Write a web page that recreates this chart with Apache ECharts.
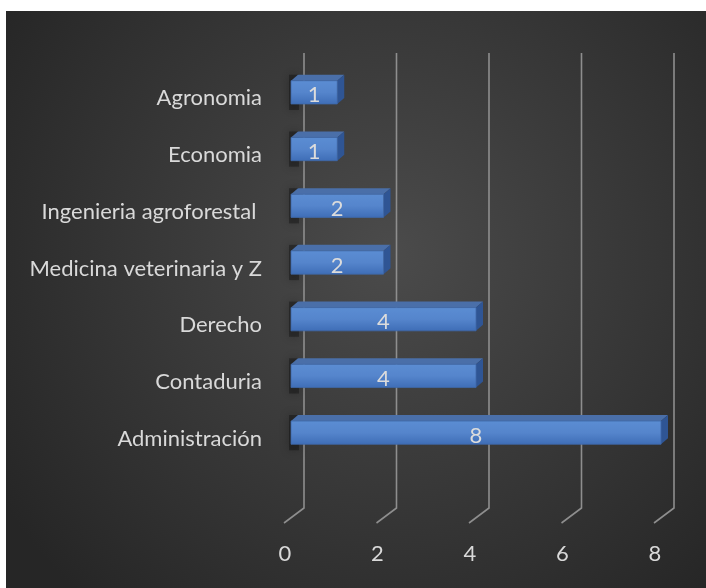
<!DOCTYPE html>
<html>
<head>
<meta charset="utf-8">
<style>
  html, body { margin: 0; padding: 0; background: #ffffff; }
  #chart { position: absolute; left: 6px; top: 11px; width: 700px; height: 577px; }
</style>
<script src="https://cdn.jsdelivr.net/npm/echarts@6/dist/echarts.min.js"></script>
</head>
<body>
<div id="chart"></div>
<script>
// Carreras y número de estudiantes
const categories = ['Administración', 'Contaduria', 'Derecho', 'Medicina veterinaria y Z', 'Ingenieria agroforestal ', 'Economia', 'Agronomia'];
const values = [8, 4, 4, 2, 2, 1, 1];
const ticks = [0, 2, 4, 6, 8];

const FONT = 'Lato, "Liberation Sans", sans-serif';
const DEPTH_X = 7, DEPTH_Y = -6;

const chart = echarts.init(document.getElementById('chart'), null, { renderer: 'canvas' });

// Back-wall gridlines with the short floor segment at the bottom
function renderGrid(params, api) {
  const v = api.value(0);
  const cs = params.coordSys;
  const p = api.coord([v, 0]);
  const bx = p[0] + 13;
  const yTop = cs.y - 11;
  const yBot = cs.y + cs.height + 47;
  return {
    type: 'polyline',
    shape: { points: [[bx, yTop], [bx, yBot], [bx - 20, yBot + 15]] },
    style: { stroke: '#8e8e8e', lineWidth: 1.6, fill: null },
    silent: true
  };
}

// 3D-looking bar: front face, top face, side face, wall shadow and value text
function renderBar(params, api) {
  const val = api.value(0);
  const idx = api.value(1);
  const p0 = api.coord([0, idx]);
  const p1 = api.coord([val, idx]);
  const band = api.size([0, 1])[1];
  const h = band * 0.41;
  const x0 = p0[0], x1 = p1[0];
  const yt = p0[1] - h / 2, yb = p0[1] + h / 2;
  return {
    type: 'group',
    children: [
      {
        type: 'rect',
        shape: { x: x0 - 2, y: yt - 6, width: 10, height: h + 12 },
        style: { fill: 'rgba(0,0,0,0.3)', shadowBlur: 10, shadowColor: 'rgba(0,0,0,0.85)' },
        silent: true
      },
      {
        type: 'polygon',
        shape: { points: [[x0, yt], [x1, yt], [x1 + DEPTH_X, yt + DEPTH_Y], [x0 + DEPTH_X, yt + DEPTH_Y]] },
        style: { fill: '#4a6fa9' }
      },
      {
        type: 'polygon',
        shape: { points: [[x1, yt], [x1 + DEPTH_X, yt + DEPTH_Y], [x1 + DEPTH_X, yb + DEPTH_Y], [x1, yb]] },
        style: { fill: '#2f5594' }
      },
      {
        type: 'rect',
        shape: { x: x0, y: yt, width: x1 - x0, height: h },
        style: {
          fill: new echarts.graphic.LinearGradient(0, 0, 0, 1, [
            { offset: 0, color: '#5b8dd3' },
            { offset: 0.5, color: '#5585cc' },
            { offset: 1, color: '#3e6db6' }
          ]),
          stroke: '#3f68a8', lineWidth: 0.8
        }
      },
      {
        type: 'text',
        style: {
          text: String(val), x: (x0 + x1) / 2, y: p0[1] + 3,
          align: 'center', verticalAlign: 'middle',
          fill: '#dcdcdc', font: '22px ' + FONT
        },
        silent: true
      }
    ]
  };
}

chart.setOption({
  animation: false,
  backgroundColor: new echarts.graphic.RadialGradient(0.55, 0.42, 0.8, [
    { offset: 0, color: '#4b4b4b' },
    { offset: 1, color: '#262626' }
  ]),
  grid: { left: 285, right: 45, top: 53, bottom: 127 },
  xAxis: {
    type: 'value', min: 0, max: 8, interval: 2,
    axisLine: { show: false }, axisTick: { show: false }, splitLine: { show: false },
    axisLabel: { color: '#d9d9d9', fontSize: 22, fontFamily: FONT, margin: 82, padding: [0, 12, 0, 0] }
  },
  yAxis: {
    type: 'category', data: categories,
    axisLine: { show: false }, axisTick: { show: false }, splitLine: { show: false },
    axisLabel: {
      color: '#d9d9d9', fontSize: 22, fontFamily: FONT, margin: 29,
      verticalAlign: 'top', lineHeight: 12
    }
  },
  series: [
    {
      type: 'custom', renderItem: renderGrid, z: 1,
      data: ticks.map(t => [t]), encode: { x: 0 }
    },
    {
      type: 'custom', renderItem: renderBar, z: 3,
      data: values.map((v, i) => [v, i]), encode: { x: 0, y: 1 }
    }
  ]
});
</script>
</body>
</html>
